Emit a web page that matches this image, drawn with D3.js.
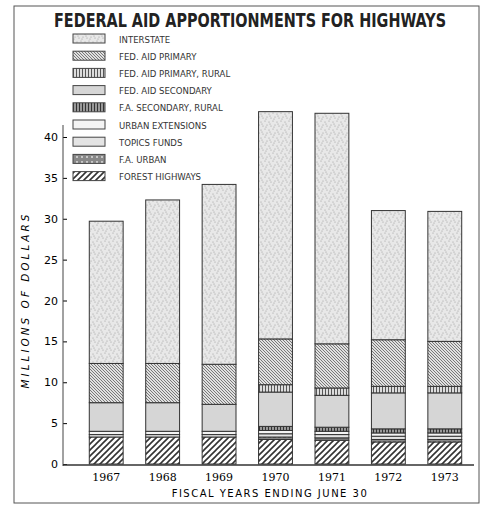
<!DOCTYPE html><html><head><script src="https://cdn.jsdelivr.net/npm/d3@7"></script>
<style>body{margin:0;background:#fff}</style></head><body><svg id="c" width="486" height="512"></svg>
<script>
const years=["1967","1968","1969","1970","1971","1972","1973"];
const seriesNames=["FOREST HIGHWAYS","F.A. URBAN","TOPICS FUNDS","URBAN EXTENSIONS","F.A. SECONDARY, RURAL","FED. AID SECONDARY","FED. AID PRIMARY, RURAL","FED. AID PRIMARY","INTERSTATE"];
const forest=[3.3,3.3,3.3,3.0,2.9,2.7,2.7];
const faUrban=[0,0,0,0.3,0.3,0.3,0.3];
const topics=[0.3,0.3,0.3,0.4,0.4,0.4,0.4];
const urbanExt=[0.4,0.4,0.4,0.4,0.4,0.4,0.4];
const secRural=[0,0,0,0.5,0.5,0.5,0.5];
const secondary=[3.5,3.5,3.3,4.2,3.9,4.4,4.4];
const primRural=[0,0,0,0.9,0.9,0.8,0.8];
const primary=[4.8,4.8,4.9,5.6,5.4,5.7,5.5];
const interstate=[17.4,20.0,22.0,27.8,28.2,15.8,15.9];
const yTicks=[0,5,10,15,20,25,30,35,40];
const cols=[forest,faUrban,topics,urbanExt,secRural,secondary,primRural,primary,interstate];
const fills=["url(#fh)","url(#fu)","#e4e4e4","#f4f4f4","url(#sr)","#d6d6d6","url(#pr)","url(#pa)","url(#st)"];
const legendOrder=[8,7,6,5,4,3,2,1,0];
const svg=d3.select("#c");
const defs=svg.append("defs");
function hatch(id,size,path,w,bg){const p=defs.append("pattern").attr("id",id).attr("patternUnits","userSpaceOnUse").attr("width",size).attr("height",size);
p.append("rect").attr("width",size).attr("height",size).attr("fill",bg);p.append("path").attr("d",path).attr("stroke","#333").attr("stroke-width",w);}
hatch("fh",6,"M0,6L6,0M-1,1L1,-1M5,7L7,5",1.6,"#fff");
hatch("pa",3,"M0,0L3,3M-1,2L1,4M2,-1L4,1",0.6,"#e0e0e0");
hatch("pr",3,"M1.5,0V3",0.8,"#ddd");
hatch("sr",3,"M1.5,0V3",1,"#999");
const st=defs.append("pattern").attr("id","st").attr("patternUnits","userSpaceOnUse").attr("width",8).attr("height",8);
st.append("rect").attr("width",8).attr("height",8).attr("fill","#e8e8e8");
[[1,1],[5,2],[3,5],[7,6],[2,7],[6,4]].forEach(d=>st.append("circle").attr("cx",d[0]).attr("cy",d[1]).attr("r",0.6).attr("fill","#999"));
const fu=defs.append("pattern").attr("id","fu").attr("patternUnits","userSpaceOnUse").attr("width",5).attr("height",5);
fu.append("rect").attr("width",5).attr("height",5).attr("fill","#888");
fu.append("circle").attr("cx",2).attr("cy",2).attr("r",1).attr("fill","#ddd");
svg.append("rect").attr("x",14).attr("y",6).attr("width",465).attr("height",497).attr("fill","none").attr("stroke","#555").attr("stroke-width",1);
svg.append("text").attr("x",250).attr("y",27).attr("text-anchor","middle").attr("font-family","DejaVu Sans Condensed, DejaVu Sans").attr("font-weight","bold").attr("font-size",19).attr("textLength",392).attr("lengthAdjust","spacingAndGlyphs").attr("fill","#222").text("FEDERAL AID APPORTIONMENTS FOR HIGHWAYS");
const y=d3.scaleLinear().domain([0,40]).range([464,137]);
const x=d3.scaleBand().domain(years).range([78,473]).paddingInner(0.4).paddingOuter(0.2);
const g=svg.append("g");
g.append("g").attr("transform","translate(63,0)").call(d3.axisLeft(y).tickValues(yTicks).tickSize(4).tickSizeInner(-4)).call(a=>{a.select(".domain").remove();a.selectAll("text").attr("font-family","DejaVu Sans").attr("font-size",11).attr("x",-5);});
svg.append("line").attr("x1",63).attr("x2",63).attr("y1",125).attr("y2",466).attr("stroke","#444");
svg.append("line").attr("x1",63).attr("x2",474).attr("y1",465).attr("y2",465).attr("stroke","#333").attr("stroke-width",1.5);
years.forEach((yr,i)=>{let acc=0;cols.forEach((c,k)=>{const v=c[i];if(v<=0)return;
g.append("rect").attr("x",x(yr)).attr("width",x.bandwidth()).attr("y",y(acc+v)).attr("height",y(acc)-y(acc+v)).attr("fill",fills[k]).attr("stroke","#333").attr("stroke-width",1);acc+=v;});});
g.selectAll(".xl").data(years).join("text").attr("x",d=>x(d)+x.bandwidth()/2).attr("y",481).attr("text-anchor","middle").attr("font-family","DejaVu Serif").attr("font-size",11).text(d=>d);
svg.append("text").attr("x",270).attr("y",497).attr("text-anchor","middle").attr("font-family","DejaVu Sans").attr("font-size",10).attr("letter-spacing",1.5).text("FISCAL YEARS ENDING JUNE 30");
svg.append("text").attr("transform","translate(29,300) rotate(-90)").attr("text-anchor","middle").attr("font-family","DejaVu Sans").attr("font-style","italic").attr("font-size",10.5).attr("letter-spacing",3).text("MILLIONS OF DOLLARS");
const lg=svg.append("g");
legendOrder.forEach((k,j)=>{const yy=34+j*17.2;
lg.append("rect").attr("x",73).attr("y",yy).attr("width",32).attr("height",9).attr("fill",fills[k]).attr("stroke","#444");
lg.append("text").attr("x",119).attr("y",yy+8.5).attr("font-family","DejaVu Sans Condensed, DejaVu Sans").attr("font-size",9.5).attr("fill","#333").text(seriesNames[k]);});
</script></body></html>
